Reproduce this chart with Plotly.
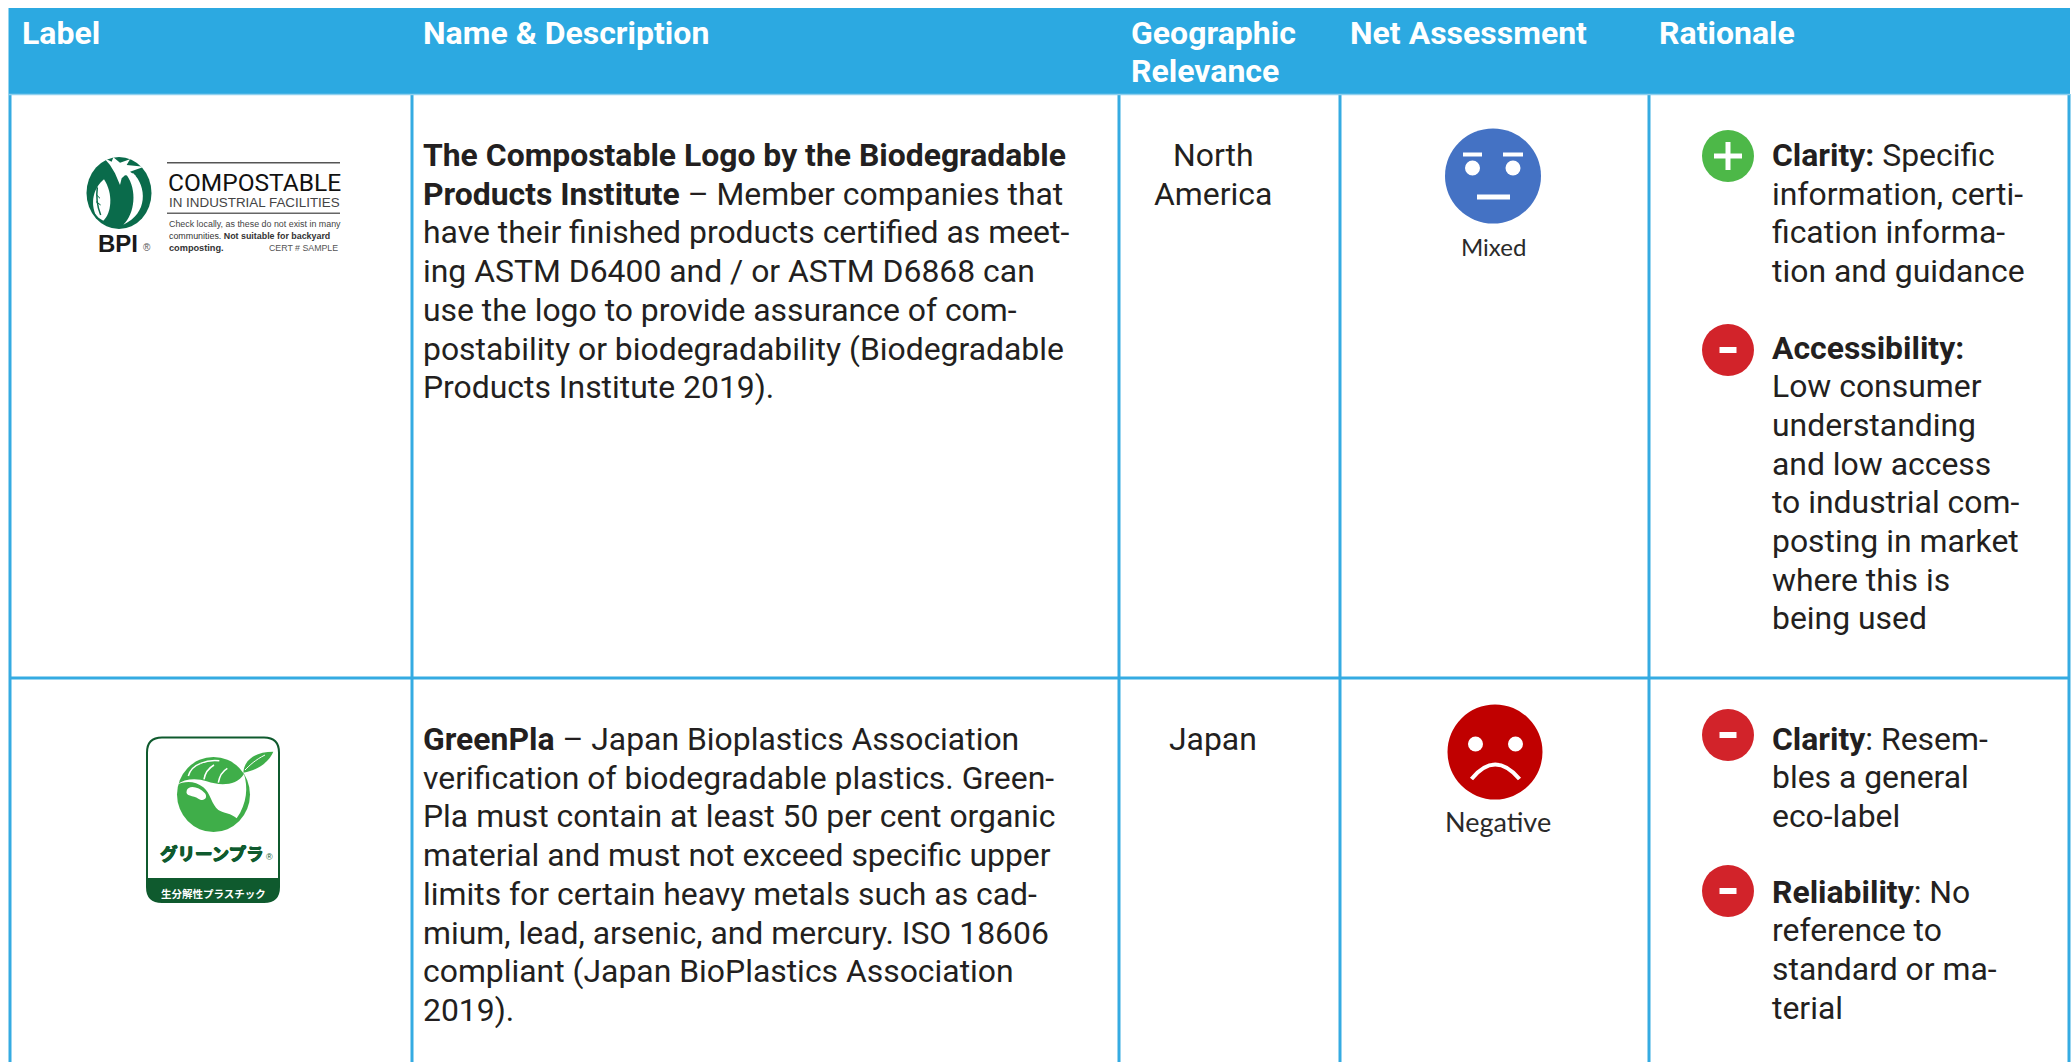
import re
import plotly.graph_objects as go

W, H = 2072, 1062
HEADER = "#2CA9E1"
RULE = "#35ABE2"
INK = "#231F20"
GREEN = "#4DB848"
RED = "#D2232A"
BODY_FONT = "Roboto"
BODY_SIZE = 31.9

# ---- content ----
header_labels = ["Label", "Name & Description", "Geographic<br>Relevance", "Net Assessment", "Rationale"]
desc_row1 = [
    "<b>The Compostable Logo by the Biodegradable</b>",
    "<b>Products Institute</b> – Member companies that",
    "have their finished products certified as meet-",
    "ing ASTM D6400 and / or ASTM D6868 can",
    "use the logo to provide assurance of com-",
    "postability or biodegradability (Biodegradable",
    "Products Institute 2019).",
]
desc_row2 = [
    "<b>GreenPla</b> – Japan Bioplastics Association",
    "verification of biodegradable plastics. Green-",
    "Pla must contain at least 50 per cent organic",
    "material and must not exceed specific upper",
    "limits for certain heavy metals such as cad-",
    "mium, lead, arsenic, and mercury. ISO 18606",
    "compliant (Japan BioPlastics Association",
    "2019).",
]
geo_row1 = ["North", "America"]
geo_row2 = ["Japan"]
assessments = ["Mixed", "Negative"]
rationale_row1a = ["<b>Clarity:</b> Specific", "information, certi-", "fication informa-", "tion and guidance"]
rationale_row1b = ["<b>Accessibility:</b>", "Low consumer", "understanding", "and low access", "to industrial com-",
                   "posting in market", "where this is", "being used"]
rationale_row2a = ["<b>Clarity</b>: Resem-", "bles a general", "eco-label"]
rationale_row2b = ["<b>Reliability</b>: No", "reference to", "standard or ma-", "terial"]

# ---- layout geometry ----
col_lines = [10, 412, 1119, 1340, 1649, 2069]
header_x = [19.5, 420.5, 1128.5, 1347.5, 1656.5]
LH = 38.7
shapes, ann = [], []


def text(x, y, s, size=BODY_SIZE, color=INK, font=BODY_FONT, anchor="left", shadow=None):
    f = dict(family=font, size=size, color=color)
    if shadow:
        f["shadow"] = shadow
    ann.append(dict(x=x, y=y, text=s, showarrow=False, xanchor=anchor, yanchor="middle",
                    font=f, align=anchor, xref="x", yref="y"))


def block(x, y, lines, **kw):
    for i, l in enumerate(lines):
        text(x, y + i * LH, l, **kw)


def rect(x0, y0, x1, y1, fill):
    shapes.append(dict(type="rect", x0=x0, y0=y0, x1=x1, y1=y1, fillcolor=fill, xref="x", yref="y",
                       line=dict(color=fill, width=0), layer="above"))


def ell(cx, cy, rx, ry, fill):
    shapes.append(dict(type="circle", x0=cx - rx, y0=cy - ry, x1=cx + rx, y1=cy + ry, fillcolor=fill, xref="x", yref="y",
                       line=dict(color=fill, width=0), layer="above"))


def path(d, fill=None, line=None, lw=0):
    shapes.append(dict(type="path", path=d, fillcolor=fill or "rgba(0,0,0,0)", xref="x", yref="y",
                       line=dict(color=line or "rgba(0,0,0,0)", width=lw), layer="above"))


def local(d, ox, oy, k=3.0):
    """Logo artwork outlines are written in local units; map them to the page."""
    out, is_x = [], True
    for tok in re.findall(r"[A-Za-z]|-?[\d.]+", d):
        if tok.isalpha():
            out.append(tok)
            is_x = True
        else:
            v = float(tok) / k + (ox if is_x else oy)
            out.append(f"{v:.2f}")
            is_x = not is_x
    return " ".join(out)


# table frame
rect(8.5, 8, 2070, 94, HEADER)
for x in col_lines:
    shapes.append(dict(type="line", x0=x, x1=x, y0=94, y1=H, xref="x", yref="y", line=dict(color=RULE, width=3)))
shapes.append(dict(type="line", x0=9, x1=2070, y0=678, y1=678, xref="x", yref="y", line=dict(color=RULE, width=3)))
shapes.append(dict(type="line", x0=9, x1=2070, y0=94.5, y1=94.5, xref="x", yref="y", line=dict(color="#8FD0EE", width=1.5)))

# header
for x, s in zip(header_x, header_labels):
    if "<br>" in s:
        a, b = s.split("<br>")
        text(x, 33, f"<b>{a}</b>", size=32, color="white")
        text(x, 71, f"<b>{b}</b>", size=32, color="white")
    else:
        text(x, 33, f"<b>{s}</b>", size=32, color="white")

# body
block(420.5, 155, desc_row1)
block(420.5, 739, desc_row2)
block(1213, 155, geo_row1, anchor="center")
block(1213, 739, geo_row2, anchor="center")
block(1769.5, 155, rationale_row1a)
block(1769.5, 347.5, rationale_row1b)
block(1769.5, 738.5, rationale_row2a)
block(1769.5, 891.5, rationale_row2b)


def sign(cx, cy, plus):
    ell(cx, cy, 26, 26, GREEN if plus else RED)
    if plus:
        rect(cx - 14, cy - 2.5, cx + 14, cy + 2.5, "white")
        rect(cx - 2.5, cy - 14, cx + 2.5, cy + 14, "white")
    else:
        rect(cx - 8.5, cy - 3, cx + 8.5, cy + 3, "white")


sign(1728, 156, True)
sign(1728, 350, False)
sign(1728, 735, False)
sign(1728, 891, False)

# mixed face
ell(1493, 176, 48, 47.5, "#4472C4")
ell(1472.5, 168, 7.5, 7.5, "white")
ell(1513, 168, 7.5, 7.5, "white")
rect(1463, 152.5, 1482, 156.5, "white")
rect(1503, 152.5, 1523, 156.5, "white")
rect(1477, 194.5, 1510, 199.5, "white")
text(1493, 246, assessments[0], size=24, font="Lato", color="#2a2a2a", anchor="center")

# negative face
ell(1495, 752, 47.5, 47.5, "#C00000")
ell(1475.5, 744, 7.5, 7.5, "white")
ell(1515.5, 744, 7.5, 7.5, "white")
path("M 1471.5 779 Q 1495 750 1519.5 779", line="white", lw=4)
text(1498, 821, assessments[1], size=27, font="Lato", color="#2a2a2a", anchor="center")

# BPI logo
BG = "#0A6B4B"
BX, BY = 80, 150
ell(119, 193, 32.5, 36, BG)
path(local("M 160 70 C 200 110 205 190 130 224 C 165 190 172 120 140 75 Z", BX, BY), fill="white")
path(local("M 72 88 C 45 110 30 150 45 190 C 50 200 60 208 70 212 C 95 190 100 130 72 88 Z", BX, BY), fill="white")
path(local("M 52 112 C 48 140 52 170 62 195", BX, BY), line=BG, lw=1.5)
path(local("M 50 135 L 60 145 M 48 155 L 62 165", BX, BY), line=BG, lw=1)
path(local("M 72 24 L 95 35 L 100 22 L 120 38 L 150 28 L 140 45 L 192 50 L 150 65 L 168 78 L 135 76 "
           "L 125 85 L 120 105 L 105 70 L 90 45 Z", BX, BY), fill="white")
text(118, 243, "<b>BPI</b>", size=24, font="Liberation Sans", color="#1a1a1a", anchor="center")
text(147, 247, "®", size=10, font="Liberation Sans", color="#555555", anchor="center")
rect(167, 162, 340, 163.5, "#555555")
rect(167, 212.5, 340, 214, "#666666")
text(254, 182, "COMPOSTABLE", size=24.5, font="Roboto", color="#111111", anchor="center")
text(254, 202, "IN INDUSTRIAL FACILITIES", size=13.4, font="Liberation Sans", color="#444444", anchor="center")
text(167, 223.5, "Check locally, as these do not exist in many", size=8.9, font="Liberation Sans", color="#444444")
text(167, 235.5, "communities. <b>Not suitable for backyard</b>", size=8.9, font="Liberation Sans", color="#333333")
text(167, 247.5, "<b>composting.</b>", size=9.2, font="Liberation Sans", color="#333333")
text(340, 247.5, "CERT # SAMPLE", size=8.8, font="Liberation Sans", color="#555555", anchor="right")

# GreenPla logo
DG = "#0F5A2E"
LG = "#3FAE49"
x0, x1, y0, y1, r = 147, 279, 737.5, 902, 15
path(f"M {x0+r} {y0} L {x1-r} {y0} Q {x1} {y0} {x1} {y0+r} L {x1} {y1-r} Q {x1} {y1} {x1-r} {y1} "
     f"L {x0+r} {y1} Q {x0} {y1} {x0} {y1-r} L {x0} {y0+r} Q {x0} {y0} {x0+r} {y0} Z", fill="white", line=DG, lw=2)
path(f"M {x0} 878 L {x1} 878 L {x1} {y1-r} Q {x1} {y1} {x1-r} {y1} L {x0+r} {y1} Q {x0} {y1} {x0} {y1-r} Z", fill=DG)
GX, GY = 170, 750
ell(213.5, 794.5, 36.5, 37.5, LG)
path(local("M 18 105 C 45 85 80 84 110 94 C 150 108 200 108 222 72 C 234 110 232 160 200 205 "
           "C 185 190 160 190 145 180 C 125 165 122 130 100 112 C 75 92 45 92 18 105 Z", GX, GY), fill="white")
path(local("M 50 122 C 55 105 85 108 105 130 C 115 145 100 156 85 146 C 70 135 45 140 50 122 Z", GX, GY), fill="white")
path(local("M 220 68 C 222 30 255 5 310 5 C 300 30 270 60 220 68 Z", GX, GY), fill=LG)
path(local("M 225 60 C 240 45 255 30 285 15", GX, GY), line="white", lw=1)
for d in ["M 55 78 C 60 60 70 48 92 40", "M 102 88 C 105 70 115 55 132 45", "M 145 98 C 148 80 155 65 172 55",
          "M 92 40 C 110 32 130 30 148 32"]:
    path(local(d, GX, GY), line="white", lw=1.5)
bold_shadow = "0.7px 0 0 %s, -0.7px 0 0 %s, 0 0.5px 0 %s, 0 -0.5px 0 %s"
text(211.5, 852, "<b>グリーンプラ</b>", size=17.5, font="Noto Sans CJK JP", color=DG, anchor="center",
     shadow=bold_shadow % (DG, DG, DG, DG))
text(269, 857, "®", size=9, font="Liberation Sans", color=DG, anchor="center")
text(213.5, 893, "<b>生分解性プラスチック</b>", size=10.5, font="Noto Sans CJK JP", color="white", anchor="center")

fig = go.Figure()
fig.add_trace(go.Scatter(x=[], y=[], showlegend=False))
fig.update_layout(
    width=W, height=H, margin=dict(l=0, r=0, t=0, b=0), paper_bgcolor="white", plot_bgcolor="white",
    showlegend=False, shapes=shapes, annotations=ann,
    xaxis=dict(range=[0, W], visible=False, fixedrange=True),
    yaxis=dict(range=[H, 0], visible=False, fixedrange=True),
)
fig.write_html("out.html", config={"displayModeBar": False},
               post_script="document.body.style.margin='0';document.body.style.overflow='hidden';")
